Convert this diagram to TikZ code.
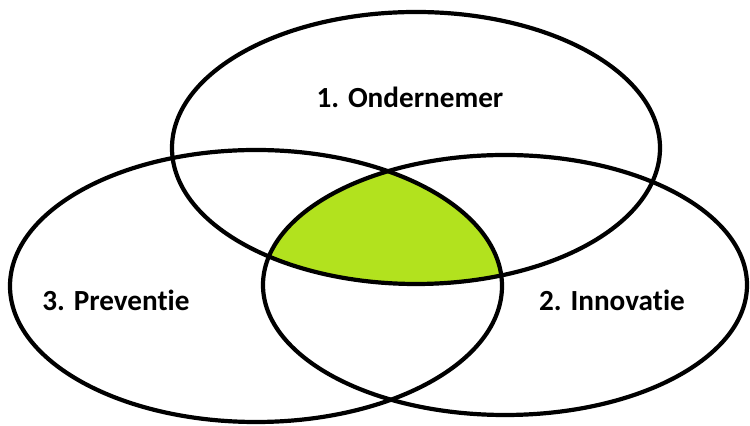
\documentclass[tikz,border=0pt]{standalone}
\usepackage{fontspec}
\setmainfont[Ligatures=NoCommon]{Carlito}
\definecolor{lime}{RGB}{178,226,30}
\begin{document}
\begin{tikzpicture}[x=0.5pt, y=-0.5pt, line width=2.1pt,
    label/.style={font=\fontsize{14.6}{16}\selectfont\bfseries}]
            \useasboundingbox (0,0) rectangle (750,426);

            % Middelpunten
            \coordinate (top) at (416,148);
            \coordinate (left) at (256,286);
            \coordinate (right) at (505,285);

            % Doorsnede van de drie ellipsen
            \begin{scope}
                \clip (top) ellipse [x radius=244, y radius=136];
                \clip (left) ellipse [x radius=246, y radius=136];
                \fill[lime] (right) ellipse [x radius=242, y radius=130];
            \end{scope}

            % Ellipsen
            \draw (top) ellipse [x radius=244, y radius=136];
            \draw (left) ellipse [x radius=246, y radius=136];
            \draw (right) ellipse [x radius=242, y radius=130];

            % Teksten
            \node[label] (onder) at (410,97) {1. Ondernemer};
            \node[label] (innov) at (612,300) {2. Innovatie};
            \node[label] (prev) at (116,300) {3. Preventie};
        \end{tikzpicture}
\end{document}
